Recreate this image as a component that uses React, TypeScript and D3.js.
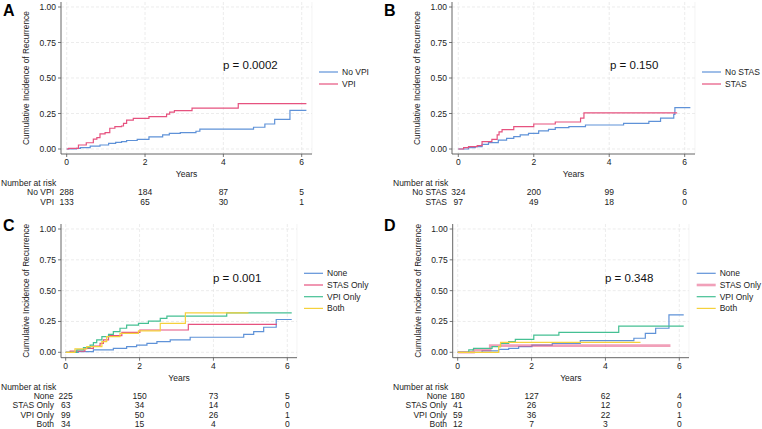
import React from "react";
import * as d3 from "d3";

// step points [years, cumulative incidence]
const aNoVpi: [number, number][] = [
  [0, 0], [0.25, 0.005], [0.35, 0.01], [0.6, 0.02], [0.85, 0.028], [1.07, 0.04], [1.25, 0.047],
  [1.4, 0.052], [1.53, 0.06], [1.8, 0.068], [2.1, 0.085], [2.45, 0.1], [2.62, 0.11], [2.9, 0.115],
  [3.3, 0.125], [3.4, 0.14], [4.77, 0.153], [5.06, 0.176], [5.31, 0.209], [5.7, 0.272], [6.12, 0.272],
];
const aVpi: [number, number][] = [
  [0, 0], [0.05, 0.005], [0.3, 0.028], [0.5, 0.044], [0.68, 0.07], [0.77, 0.08], [0.85, 0.106],
  [0.98, 0.115], [1.1, 0.146], [1.23, 0.158], [1.4, 0.162], [1.45, 0.18], [1.53, 0.204], [1.7, 0.216],
  [2.1, 0.228], [2.55, 0.246], [2.63, 0.26], [2.75, 0.27], [3.2, 0.288], [4.38, 0.32], [6.12, 0.32],
];
const bNoStas: [number, number][] = [
  [0, 0], [0.27, 0.01], [0.45, 0.017], [0.63, 0.033], [0.8, 0.045], [1.06, 0.063], [1.28, 0.075],
  [1.47, 0.087], [1.64, 0.1], [1.86, 0.11], [2.13, 0.127], [2.39, 0.138], [2.57, 0.15], [2.93, 0.157],
  [3.37, 0.169], [4.38, 0.18], [5.05, 0.195], [5.36, 0.218], [5.71, 0.244], [5.74, 0.292], [6.15, 0.292],
];
const bStas: [number, number][] = [
  [0, 0], [0.14, 0.01], [0.27, 0.017], [0.5, 0.024], [0.63, 0.052], [0.89, 0.068], [1.03, 0.1],
  [1.08, 0.12], [1.16, 0.136], [1.47, 0.157], [2.0, 0.176], [2.57, 0.19], [3.24, 0.217], [3.33, 0.255],
  [5.8, 0.255],
];
const cNone: [number, number][] = [
  [0, 0], [0.34, 0.005], [0.75, 0.019], [1.29, 0.032], [1.65, 0.046], [1.92, 0.059], [2.2, 0.073],
  [2.47, 0.086], [2.83, 0.1], [3.37, 0.122], [4.82, 0.146], [5.09, 0.168], [5.36, 0.203], [5.7, 0.266],
  [6.12, 0.266],
];
const cStasOnly: [number, number][] = [
  [0, 0], [0.12, 0.01], [0.52, 0.032], [0.75, 0.051], [0.93, 0.073], [1.02, 0.1], [1.16, 0.135],
  [1.52, 0.162], [2.01, 0.181], [3.32, 0.227], [5.72, 0.227],
];
const cVpiOnly: [number, number][] = [
  [0, 0], [0.3, 0.019], [0.48, 0.038], [0.66, 0.059], [0.75, 0.078], [0.84, 0.1], [0.98, 0.127],
  [1.16, 0.146], [1.29, 0.168], [1.47, 0.195], [1.65, 0.22], [1.97, 0.234], [2.24, 0.253],
  [2.56, 0.275], [2.74, 0.294], [4.36, 0.32], [6.12, 0.32],
];
const cBoth: [number, number][] = [
  [0, 0], [0.25, 0.027], [0.57, 0.046], [0.98, 0.086], [1.11, 0.127], [1.47, 0.154], [1.97, 0.173],
  [2.56, 0.235], [3.24, 0.32], [4.95, 0.32],
];
const dNone: [number, number][] = [
  [0, 0], [0.66, 0.011], [1.11, 0.024], [1.38, 0.032], [1.65, 0.046], [2.01, 0.059], [2.56, 0.073],
  [3.32, 0.095], [4.77, 0.114], [5.08, 0.154], [5.36, 0.195], [5.72, 0.303], [6.12, 0.303],
];
const dStasOnly: [number, number][] = [
  [0, 0], [0.43, 0.019], [0.88, 0.054], [5.76, 0.054],
];
const dVpiOnly: [number, number][] = [
  [0, 0], [0.3, 0.019], [0.43, 0.032], [0.93, 0.046], [1.16, 0.073], [1.38, 0.086], [1.56, 0.105],
  [2.06, 0.14], [2.74, 0.162], [4.36, 0.213], [6.12, 0.213],
];
const dBoth: [number, number][] = [
  [0, 0], [1.11, 0.046], [1.16, 0.081], [4.95, 0.081],
];

const xTicks = [0, 2, 4, 6];
const yTicks = [0, 0.25, 0.5, 0.75, 1];

const abLabels = [["No VPI", "VPI"], ["No STAS", "STAS"]];
const cdLabels = ["None", "STAS Only", "VPI Only", "Both"];
const pValues = ["p = 0.0002", "p = 0.150", "p = 0.001", "p = 0.348"];
const riskA = [[288, 184, 87, 5], [133, 65, 30, 1]];
const riskB = [[324, 200, 99, 6], [97, 49, 18, 0]];
const riskC = [[225, 150, 73, 5], [63, 34, 14, 0], [99, 50, 26, 1], [34, 15, 4, 0]];
const riskD = [[180, 127, 62, 4], [41, 26, 12, 0], [59, 36, 22, 1], [12, 7, 3, 0]];

const BLUE = "#5f92d8";
const PINK = "#e6527f";
const GREEN = "#45c093";
const YELLOW = "#f5d13c";
const FONT = "'Liberation Sans', Arial, Helvetica, sans-serif";

interface PanelProps {
  letter: string;
  ox: number; // panel left
  oy: number; // panel top
  axisX: number;
  right: number;
  x0: number;
  x6: number;
  y0: number;
  y1: number;
  axisY: number;
  legendX: number;
  legendY: number;
  legendStep: number;
  pX: number;
  pY: number;
  p: string;
  series: { name: string; color: string; data: [number, number][]; width?: number; opacity?: number }[];
  risk: number[][];
  labelRight: number;
  riskTitleX: number;
}

function Panel(props: PanelProps) {
  const { axisX, right, x0, x6, y0, y1, axisY } = props;
  const x = d3.scaleLinear().domain([0, 6]).range([x0, x6]);
  const y = d3.scaleLinear().domain([0, 1]).range([y0, y1]);
  const line = d3
    .line<[number, number]>()
    .x((d) => x(d[0]))
    .y((d) => y(d[1]))
    .curve(d3.curveStepAfter);
  const top = y(1) - 5;
  const tickY = axisY + 11;
  const yearsY = axisY + 23;
  const riskTop = axisY + 32;
  const rowStep = props.risk.length > 2 ? 9.3 : 9.3;

  return (
    <g fontFamily={FONT} fill="#222">
      <text x={props.ox + 3} y={props.oy + 16} fontSize={16} fontWeight="bold" fill="#000">
        {props.letter}
      </text>
      {yTicks.map((t) => (
        <line key={"gy" + t} x1={axisX} x2={right} y1={y(t)} y2={y(t)} stroke="#e4e4e4" strokeWidth={0.7} strokeDasharray="3,2" />
      ))}
      {xTicks.map((t) => (
        <line key={"gx" + t} x1={x(t)} x2={x(t)} y1={top} y2={axisY} stroke="#e4e4e4" strokeWidth={0.7} strokeDasharray="3,2" />
      ))}
      <line x1={right} x2={right} y1={top} y2={axisY} stroke="#ececec" strokeWidth={0.6} />
      <line x1={axisX} x2={axisX} y1={top} y2={axisY} stroke="#555" strokeWidth={0.9} />
      <line x1={axisX} x2={right} y1={axisY} y2={axisY} stroke="#555" strokeWidth={0.9} />
      {yTicks.map((t) => (
        <g key={"yt" + t}>
          <line x1={axisX - 3} x2={axisX} y1={y(t)} y2={y(t)} stroke="#555" strokeWidth={0.8} />
          <text x={axisX - 5} y={y(t) + 3} fontSize={8.5} textAnchor="end">
            {t.toFixed(2)}
          </text>
        </g>
      ))}
      {xTicks.map((t) => (
        <g key={"xt" + t}>
          <line x1={x(t)} x2={x(t)} y1={axisY} y2={axisY + 3} stroke="#555" strokeWidth={0.8} />
          <text x={x(t)} y={tickY} fontSize={8.5} textAnchor="middle">
            {t}
          </text>
        </g>
      ))}
      <text x={(axisX + right) / 2} y={yearsY} fontSize={8.5} textAnchor="middle">
        Years
      </text>
      <text
        transform={`translate(${axisX - 32},${(top + axisY) / 2}) rotate(-90)`}
        fontSize={8.3}
        textAnchor="middle"
      >
        Cumulative Incidence of Recurrence
      </text>
      {props.series.map((s) => (
        <path
          key={s.name}
          d={line(s.data) || ""}
          fill="none"
          stroke={s.color}
          strokeWidth={s.width ?? 1.2}
          strokeOpacity={s.opacity ?? 1}
        />
      ))}
      <text x={props.pX} y={props.pY} fontSize={11.5} fill="#111">
        {props.p}
      </text>
      {props.series.map((s, i) => (
        <g key={"lg" + s.name}>
          <line
            x1={props.legendX}
            x2={props.legendX + 19}
            y1={props.legendY + i * props.legendStep}
            y2={props.legendY + i * props.legendStep}
            stroke={s.color}
            strokeWidth={s.width ?? 1.2}
            strokeOpacity={s.opacity ?? 1}
          />
          <text x={props.legendX + 23} y={props.legendY + i * props.legendStep + 3} fontSize={8.5}>
            {s.name}
          </text>
        </g>
      ))}
      <text x={props.riskTitleX} y={riskTop} fontSize={8.5}>
        Number at risk
      </text>
      {props.risk.map((row, r) => (
        <g key={"rk" + r}>
          <text x={props.labelRight} y={riskTop + (r + 1) * rowStep} fontSize={8.5} textAnchor="end">
            {props.series[r].name}
          </text>
          {row.map((n, i) => (
            <text key={i} x={x(xTicks[i])} y={riskTop + (r + 1) * rowStep} fontSize={8.5} textAnchor="middle">
              {n}
            </text>
          ))}
        </g>
      ))}
    </g>
  );
}

export default function App() {
  return (
    <svg width={762} height={429} style={{ position: "absolute", left: 0, top: 0, background: "#fff" }}>
      <rect width={762} height={429} fill="#fff" />
      <Panel
        letter="A" ox={0} oy={0} axisX={61} right={312} x0={66.7} x6={301.7} y0={149} y1={7} axisY={154}
        legendX={319} legendY={72} legendStep={12} pX={223} pY={69} p={pValues[0]}
        series={[
          { name: abLabels[0][0], color: BLUE, data: aNoVpi },
          { name: abLabels[0][1], color: PINK, data: aVpi },
        ]}
        risk={riskA} labelRight={54} riskTitleX={1}
      />
      <Panel
        letter="B" ox={381} oy={0} axisX={452} right={695} x0={458.3} x6={684.7} y0={149} y1={7} axisY={154}
        legendX={702} legendY={72} legendStep={12} pX={610} pY={69} p={pValues[1]}
        series={[
          { name: abLabels[1][0], color: BLUE, data: bNoStas },
          { name: abLabels[1][1], color: PINK, data: bStas },
        ]}
        risk={riskB} labelRight={447} riskTitleX={393}
      />
      <Panel
        letter="C" ox={0} oy={215} axisX={61} right={297} x0={65.7} x6={287.3} y0={352.3} y1={229} axisY={357.7}
        legendX={304} legendY={273.3} legendStep={11.7} pX={213} pY={282} p={pValues[2]}
        series={[
          { name: cdLabels[0], color: BLUE, data: cNone },
          { name: cdLabels[1], color: PINK, data: cStasOnly },
          { name: cdLabels[2], color: GREEN, data: cVpiOnly },
          { name: cdLabels[3], color: YELLOW, data: cBoth },
        ]}
        risk={riskC} labelRight={54} riskTitleX={1}
      />
      <Panel
        letter="D" ox={381} oy={215} axisX={452.7} right={689} x0={457.7} x6={679.3} y0={352.3} y1={229} axisY={357.7}
        legendX={696.7} legendY={273.3} legendStep={11.7} pX={605} pY={282} p={pValues[3]}
        series={[
          { name: cdLabels[0], color: BLUE, data: dNone },
          { name: cdLabels[1], color: PINK, data: dStasOnly, width: 2.6, opacity: 0.55 },
          { name: cdLabels[2], color: GREEN, data: dVpiOnly },
          { name: cdLabels[3], color: YELLOW, data: dBoth },
        ]}
        risk={riskD} labelRight={447} riskTitleX={393}
      />
    </svg>
  );
}
